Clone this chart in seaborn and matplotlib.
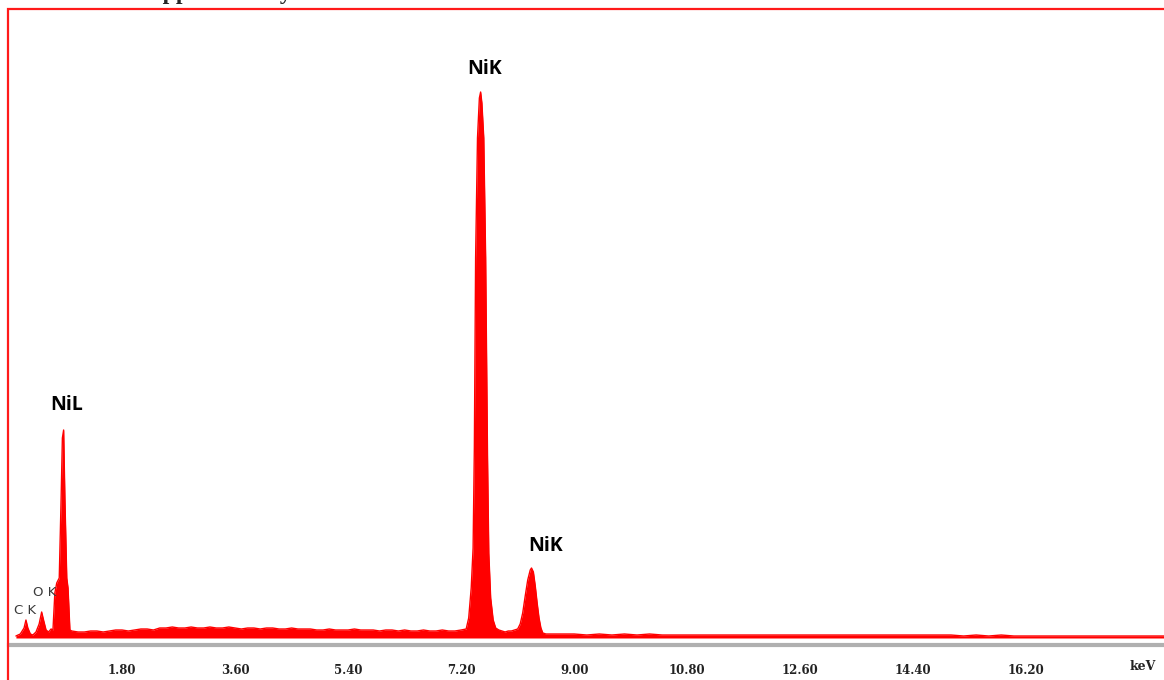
"""EDX spectrum of the Ni sample, redrawn from the supplementary figure."""

import matplotlib
matplotlib.use('Agg')
import matplotlib.pyplot as plt
import seaborn as sns
from matplotlib.patches import Rectangle

# spectrum (energy in keV, counts in arbitrary units)
energy_kev = [
    0.11, 0.18, 0.24, 0.27, 0.30, 0.34, 0.38, 0.43, 0.48, 0.52, 0.55, 0.59, 0.63, 0.67,
    0.70, 0.73, 0.76, 0.80, 0.83, 0.85, 0.87, 0.89, 0.92, 0.94, 0.955, 0.97,
    1.0, 1.1, 1.2, 1.3, 1.4, 1.5, 1.6, 1.7, 1.8, 1.9, 2.0, 2.1, 2.2, 2.3, 2.4, 2.5,
    2.6, 2.7, 2.8, 2.9, 3.0, 3.1, 3.2, 3.3, 3.4, 3.5, 3.6, 3.7, 3.8, 3.9, 4.0, 4.1,
    4.2, 4.3, 4.4, 4.5, 4.6, 4.7, 4.8, 4.9, 5.0, 5.1, 5.2, 5.3, 5.4, 5.5, 5.6, 5.7,
    5.8, 5.9, 6.0, 6.1, 6.2, 6.3, 6.4, 6.5, 6.6, 6.7, 6.8, 6.9, 7.0, 7.1, 7.2,
    7.28, 7.32, 7.36, 7.39, 7.41, 7.43, 7.46, 7.49, 7.51, 7.53, 7.56, 7.59, 7.62, 7.64,
    7.67, 7.71, 7.75, 7.80, 7.85, 7.90, 7.95, 8.00, 8.05, 8.10,
    8.14, 8.18, 8.22, 8.26, 8.30, 8.32, 8.35, 8.38, 8.41, 8.44, 8.47, 8.50, 8.55,
    8.6, 8.8, 9.0, 9.2, 9.4, 9.6, 9.8, 10.0, 10.2, 10.4, 10.6, 10.8, 11.0, 11.2, 11.4,
    11.6, 11.8, 12.0, 12.2, 12.4, 12.6, 12.8, 13.0, 13.2, 13.4, 13.6, 13.8, 14.0, 14.2,
    14.4, 14.6, 14.8, 15.0, 15.2, 15.4, 15.6, 15.8, 16.0, 16.2, 16.4, 16.6, 16.8, 17.0,
    17.2, 17.4, 17.6, 17.8, 18.0, 18.2, 18.4,
]
counts = [
    2, 4, 10, 18, 10, 4, 3, 6, 14, 26, 18, 8, 6, 9,
    8, 45, 55, 60, 140, 200, 208, 140, 60, 50, 30, 8,
    7, 6, 6, 7, 7, 6, 7, 8, 8, 7, 8, 9, 9, 8, 10, 10,
    11, 10, 10, 11, 10, 10, 11, 10, 10, 11, 10, 9, 10, 10, 9, 10,
    10, 9, 9, 10, 9, 9, 9, 8, 8, 9, 8, 8, 8, 9, 8, 8,
    8, 7, 8, 8, 7, 8, 7, 7, 8, 7, 7, 8, 7, 7, 8,
    9, 20, 50, 90, 190, 380, 500, 540, 546, 535, 500, 380, 180, 85,
    40, 18, 10, 8, 7, 6, 7, 7, 8, 9,
    14, 25, 42, 58, 68, 70, 66, 52, 35, 20, 10, 5, 4,
    4, 4, 4, 3, 4, 3, 4, 3, 4, 3, 3, 3, 3, 3, 3,
    3, 3, 3, 3, 3, 3, 3, 3, 3, 3, 3, 3, 3, 3,
    3, 3, 3, 3, 2, 3, 2, 3, 2, 2, 2, 2, 2, 2,
    2, 2, 2, 2, 2, 2, 2,
]

# peak labels
peak_names = ['NiK', 'NiL', 'NiK']
peak_kev = [7.58, 0.92, 8.55]
peak_counts = [569, 233, 92]

minor_names = ['C K', 'O K']
minor_kev = [0.26, 0.57]
minor_counts = [28, 46]

tick_kev = [1.80, 3.60, 5.40, 7.20, 9.00, 10.80, 12.60, 14.40, 16.20]

W, H = 1164, 680


def main():
    sns.set_style('white')
    fig = plt.figure(figsize=(W / 100, H / 100), dpi=100)
    fig.patch.set_facecolor('white')

    # the red frame round the picture, open at the right and bottom
    fig.patches.append(Rectangle((8 / W, -0.05), 1.1, 1 - 9 / H + 0.05,
                                 transform=fig.transFigure, fill=False,
                                 edgecolor='#ff1a1a', linewidth=1.6))
    # the cut-off caption above the frame (only its lower edge shows)
    fig.text(30 / W, 1 + 0.5 / H, 'Section S1 supplementary information',
             family='Liberation Serif', weight='bold', fontsize=17,
             va='baseline', ha='left')

    ax = fig.add_axes([9 / W, 1 - 645 / H, 1 - 9 / W, (645 - 12) / H])
    ax.fill_between(energy_kev, counts, 0, color='#ff0000', linewidth=0)
    sns.lineplot(x=energy_kev, y=counts, ax=ax, color='#ff0000', linewidth=1.0,
                 estimator=None, sort=False)
    ax.set_xlim(0, (W - 9) / 62.8)
    ax.set_ylim(-7, 626)

    for sp in ['left', 'top', 'right']:
        ax.spines[sp].set_visible(False)
    ax.spines['bottom'].set_color('#b0b0b0')
    ax.spines['bottom'].set_linewidth(3)

    ax.set_yticks([])
    ax.set_xticks(tick_kev)
    ax.set_xticklabels([f'{t:.2f}' for t in tick_kev], fontsize=8.5,
                       weight='bold', family='DejaVu Serif', color='#222222')
    ax.tick_params(axis='x', direction='inout', length=7, width=1.2,
                   color='#555555', pad=10)
    ax.text(18.05, -29, 'keV', transform=ax.transData, fontsize=9, weight='bold',
            family='DejaVu Serif', ha='center', va='center', color='#222222',
            clip_on=False)

    for name, x, y in zip(peak_names, peak_kev, peak_counts):
        ax.text(x, y, name, ha='center', va='center', fontsize=14,
                weight='bold', family='Open Sans', color='black')
    for name, x, y in zip(minor_names, minor_kev, minor_counts):
        ax.text(x, y, name, ha='center', va='center', fontsize=9.5,
                family='DejaVu Sans', color='#3a3a3a')

    fig.savefig('out.png', dpi=100)
    plt.close(fig)


if __name__ == '__main__':
    main()
